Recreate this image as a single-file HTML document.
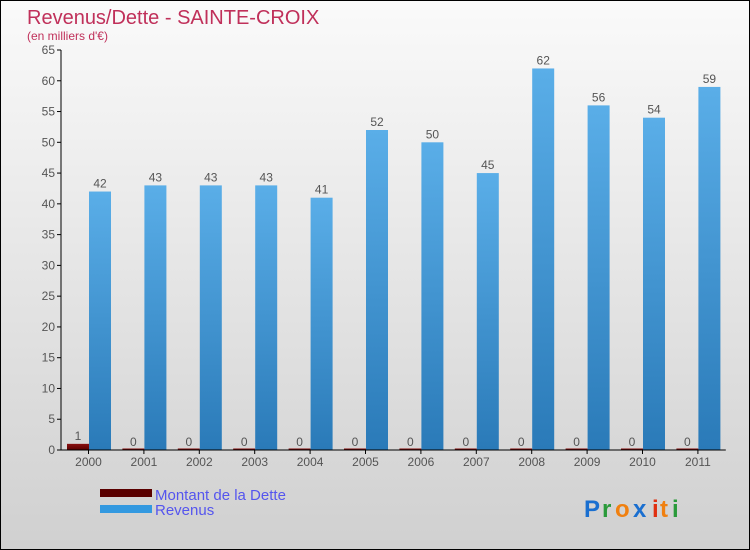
<!DOCTYPE html>
<html><head><meta charset="utf-8"><style>
body{margin:0}
#c{width:748px;height:548px;border:1px solid #000;background:linear-gradient(#fafafa,#d0d0d0);position:relative;font-family:"Liberation Sans",sans-serif;overflow:hidden}
</style></head><body>
<div id="c">
<svg id="s" width="748" height="548" xmlns="http://www.w3.org/2000/svg">
<defs>
<linearGradient id="gb" x1="0" y1="0" x2="0" y2="1"><stop offset="0" stop-color="#5aaee8"/><stop offset="1" stop-color="#2a7ab8"/></linearGradient>
<linearGradient id="gr" x1="0" y1="0" x2="0" y2="1"><stop offset="0" stop-color="#8a1010"/><stop offset="1" stop-color="#5a0000"/></linearGradient>
</defs>
<text x="26" y="23" font-size="20" fill="#c0305a">Revenus/Dette - SAINTE-CROIX</text>
<text x="26" y="39" font-size="12" fill="#c0305a">(en milliers d'€)</text>
<g id="g"></g>
<rect x="99" y="488" width="52" height="8" fill="#5a0000"/>
<text x="154" y="499" font-size="15" fill="#5555ee">Montant de la Dette</text>
<rect x="99" y="504" width="52" height="8" fill="#3399e0"/>
<text x="154" y="514" font-size="15" fill="#5555ee">Revenus</text>
<g font-size="24" font-weight="bold">
<text x="583" y="516" fill="#1a6fd0">P</text><text x="601" y="516" fill="#2a9a3a">r</text><text x="614" y="516" fill="#f08010">o</text><text x="632" y="516" fill="#1a6fd0">x</text><text x="651" y="516" fill="#e03010">i</text><text x="659" y="516" fill="#f08010">t</text><text x="671" y="516" fill="#2a9a3a">i</text>
</g>
</svg>
</div>
<script>
const years=["2000","2001","2002","2003","2004","2005","2006","2007","2008","2009","2010","2011"];
const dette=[1,0,0,0,0,0,0,0,0,0,0,0];
const revenus=[42,43,43,43,41,52,50,45,62,56,54,59];
const yTicks=[0,5,10,15,20,25,30,35,40,45,50,55,60,65];
const NS="http://www.w3.org/2000/svg";
const g=document.getElementById('g');
const x0=60,cw=55.4,y0=449,ppu=400/65;
const y=v=>y0-v*ppu;
function el(t,a,txt){const e=document.createElementNS(NS,t);for(const k in a)e.setAttribute(k,a[k]);if(txt!=null)e.textContent=txt;g.appendChild(e);return e;}
yTicks.forEach(v=>{
const l=el('line',{x1:x0-4,x2:x0,y1:y(v),y2:y(v),stroke:'#000'});


const t=el('text',{x:x0-6,y:y(v)+4,'font-size':12,fill:'#555','text-anchor':'end'},v);


});
years.forEach((yr,i)=>{
const gx=x0+i*cw;
const dh=Math.max(dette[i]*ppu,1.5);
const d=el('rect',{x:gx+6,y:y0-dh,width:22,height:dh,fill:'url(#gr)'});


const dl=el('text',{x:gx+17,y:y(dette[i])-4,'font-size':12,fill:'#555','text-anchor':'middle'},dette[i]);


const r=el('rect',{x:gx+28,y:y(revenus[i]),width:22,height:revenus[i]*ppu,fill:'url(#gb)'});


const rl=el('text',{x:gx+39,y:y(revenus[i])-4,'font-size':12,fill:'#555','text-anchor':'middle'},revenus[i]);


const tk=el('line',{x1:gx+27.5,x2:gx+27.5,y1:y0,y2:y0+4,stroke:'#000'});


const xl=el('text',{x:gx+27.5,y:y0+16,'font-size':12,fill:'#555','text-anchor':'middle'},yr);


});
const ya=el('line',{x1:x0,x2:x0,y1:y(65),y2:y0,stroke:'#000'});


const xa=el('line',{x1:x0,x2:x0+cw*12,y1:y0,y2:y0,stroke:'#000'});


</script>
</body></html>
